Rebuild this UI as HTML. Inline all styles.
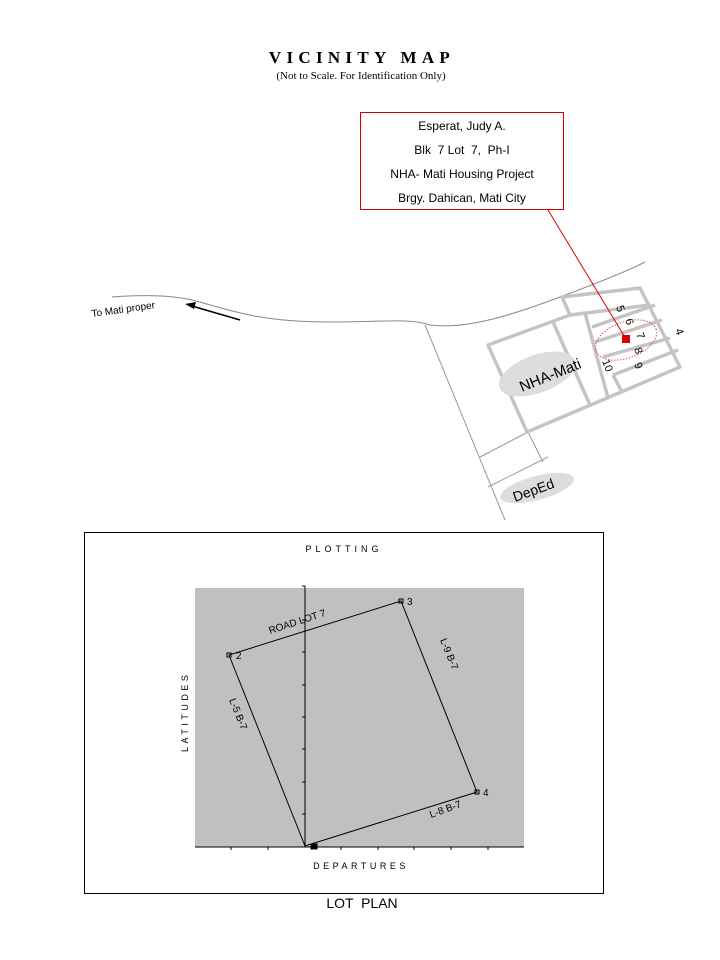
<!DOCTYPE html>
<html><head><meta charset="utf-8"><style>
html,body{margin:0;padding:0;background:#fff;width:720px;height:960px;overflow:hidden}
svg{display:block}
</style></head><body>
<svg width="720" height="960" viewBox="0 0 720 960" xmlns="http://www.w3.org/2000/svg" font-family="Liberation Sans, sans-serif">
<text x="362" y="63" text-anchor="middle" font-family="Liberation Serif, serif" font-weight="bold" font-size="17" letter-spacing="5.3">VICINITY MAP</text>
<text x="361" y="79" text-anchor="middle" font-family="Liberation Serif, serif" font-size="11">(Not to Scale. For Identification Only)</text>
<rect x="360.5" y="112.5" width="203" height="97" fill="#fff" stroke="#d00000" stroke-width="1"/>
<g font-size="12" text-anchor="middle" fill="#000">
<text x="462" y="130">Esperat, Judy A.</text>
<text x="462" y="154" xml:space="preserve">Blk  7 Lot  7,  Ph-I</text>
<text x="462" y="178">NHA- Mati Housing Project</text>
<text x="462" y="202">Brgy. Dahican, Mati City</text>
</g>
<path d="M112,297 C150,294 180,296 200,302 C240,314 270,322 330,322 C380,322 410,318 430,325 C470,330 520,312 560,297 C600,282 630,270 645,262" fill="none" stroke="#888" stroke-width="1"/>
<line x1="425" y1="325" x2="505" y2="520" stroke="#999" stroke-width="1"/>
<line x1="480" y1="457" x2="528" y2="432" stroke="#999" stroke-width="1"/>
<line x1="488" y1="487" x2="548" y2="457" stroke="#999" stroke-width="1"/>
<line x1="528" y1="432" x2="543" y2="462" stroke="#999" stroke-width="1"/>
<line x1="240" y1="320" x2="192" y2="306" stroke="#000" stroke-width="1.5"/>
<polygon points="185,304 196,302 194,309" fill="#000"/>
<text x="0" y="0" font-size="10" transform="translate(92,317) rotate(-8)">To Mati proper</text>
<g stroke="#c4c4c4" stroke-width="3.5" fill="none" stroke-linejoin="round">
<polygon points="488,345 527,432 680,367 640,288 562,297 570,315"/>
<line x1="570" y1="315" x2="650" y2="305"/>
<line x1="553" y1="322" x2="590" y2="405"/>
<line x1="585" y1="313" x2="608" y2="398"/>
<line x1="592" y1="327" x2="655" y2="305"/>
<line x1="595" y1="342" x2="662" y2="320"/>
<line x1="603" y1="357" x2="670" y2="338"/>
<line x1="613" y1="375" x2="678" y2="350"/>
<line x1="613" y1="375" x2="622" y2="392"/>
</g>
<ellipse cx="537" cy="374" rx="40" ry="19" fill="#ddd" transform="rotate(-20 537 374)"/>
<text x="0" y="0" font-size="15" transform="translate(522,392) rotate(-22)">NHA-Mati</text>
<ellipse cx="537" cy="488" rx="38" ry="12" fill="#ddd" transform="rotate(-15 537 488)"/>
<text x="0" y="0" font-size="14" transform="translate(515,502) rotate(-20)">DepEd</text>
<g font-size="11">
<text transform="translate(616,307) rotate(70)">5</text>
<text transform="translate(625,320) rotate(70)">6</text>
<text transform="translate(636,334) rotate(70)">7</text>
<text transform="translate(634,349) rotate(70)">8</text>
<text transform="translate(634,364) rotate(70)">9</text>
<text transform="translate(602,361) rotate(70)">10</text>
<text transform="translate(675,330) rotate(70)">4</text>
</g>
<ellipse cx="626" cy="340" rx="32" ry="18" fill="none" stroke="#e05050" stroke-width="1" stroke-dasharray="1.5,1.5" transform="rotate(-20 626 340)"/>
<line x1="548" y1="210" x2="626" y2="339" stroke="#e00000" stroke-width="1"/>
<rect x="622" y="335" width="8" height="8" fill="#e00000"/>
<rect x="84.5" y="532.5" width="519" height="361" fill="#fff" stroke="#000" stroke-width="1"/>
<text x="344" y="552" text-anchor="middle" font-size="9" letter-spacing="4">PLOTTING</text>
<rect x="195" y="588" width="329" height="259" fill="#c0c0c0"/>
<line x1="305" y1="586" x2="305" y2="847" stroke="#000"/>
<line x1="195" y1="847" x2="524" y2="847" stroke="#000"/>
<g stroke="#000" stroke-width="1">
<line x1="302" y1="586" x2="305" y2="586"/>
<line x1="302" y1="620" x2="305" y2="620"/>
<line x1="302" y1="652" x2="305" y2="652"/>
<line x1="302" y1="685" x2="305" y2="685"/>
<line x1="302" y1="717" x2="305" y2="717"/>
<line x1="302" y1="749" x2="305" y2="749"/>
<line x1="302" y1="782" x2="305" y2="782"/>
<line x1="302" y1="814" x2="305" y2="814"/>
<line x1="231" y1="847" x2="231" y2="850"/>
<line x1="268" y1="847" x2="268" y2="850"/>
<line x1="341" y1="847" x2="341" y2="850"/>
<line x1="378" y1="847" x2="378" y2="850"/>
<line x1="414" y1="847" x2="414" y2="850"/>
<line x1="451" y1="847" x2="451" y2="850"/>
<line x1="488" y1="847" x2="488" y2="850"/>
</g>
<polygon points="305,846 229,655 401,601 477,792" fill="none" stroke="#000" stroke-width="1"/>
<g fill="none" stroke="#000" stroke-width="1">
<rect x="227" y="653" width="4" height="4"/>
<rect x="399" y="599" width="4" height="4"/>
<rect x="475" y="790" width="4" height="4"/>
<rect x="311" y="844" width="6" height="5" fill="#000"/>
</g>
<g font-size="10">
<text x="236" y="659">2</text>
<text x="407" y="605">3</text>
<text x="483" y="796">4</text>
<text transform="translate(270,634) rotate(-18)">ROAD LOT 7</text>
<text transform="translate(440,640) rotate(68)">L-9 B-7</text>
<text transform="translate(229,700) rotate(68)">L-5 B-7</text>
<text transform="translate(431,818) rotate(-20)">L-8 B-7</text>
</g>
<text transform="translate(188,752) rotate(-90)" font-size="9" letter-spacing="3.5">LATITUDES</text>
<text x="361" y="869" text-anchor="middle" font-size="9" letter-spacing="3.5">DEPARTURES</text>
<text x="362" y="908" text-anchor="middle" font-size="14" xml:space="preserve">LOT  PLAN</text>
</svg>
</body></html>
